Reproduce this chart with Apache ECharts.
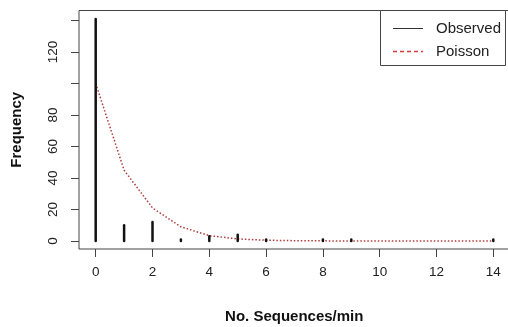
<!DOCTYPE html>
<html>
<head>
<meta charset="utf-8">
<script src="https://cdn.jsdelivr.net/npm/echarts@6/dist/echarts.min.js"></script>
<style>html,body{margin:0;padding:0;background:#fff;}#c{width:508px;height:327px;}</style>
</head>
<body>
<div id="c"></div>
<script>
// Data
var counts = [0, 1, 2, 3, 4, 5, 6, 7, 8, 9, 10, 11, 12, 13, 14];
var observed = [141, 10, 12, 1, 3, 4, 1, 0, 1, 1, 0, 0, 0, 0, 1];
var poisson = [100, 45, 21, 9, 3.4, 1.3, 0.5, 0.2, 0.1, 0, 0, 0, 0, 0, 0];
var xTickValues = [0, 2, 4, 6, 8, 10, 12, 14];
var yTickValues = [0, 20, 40, 60, 80, 100, 120, 140];
var yLabelValues = [0, 20, 40, 60, 80, 120];
var seriesNames = ['Observed', 'Poisson'];

var chart = echarts.init(document.getElementById('c'), null, {renderer: 'canvas'});
var font = 'Liberation Sans, Arial, sans-serif';
var obsData = [];
for (var i = 0; i < counts.length; i++) {
  if (observed[i] > 0) obsData.push([counts[i], observed[i]]);
}
var poiData = counts.map(function (c, i) { return [c, poisson[i]]; });

chart.setOption({
  animation: false,
  backgroundColor: '#fff',
  grid: {
    left: 79, top: 10.5, right: -1.5, bottom: 78,
    show: true, borderColor: '#444', borderWidth: 1,
    containLabel: false, outerBoundsMode: 'none'
  },
  xAxis: {
    type: 'value', min: -0.588, max: 14.57,
    axisLine: {show: false, onZero: false},
    splitLine: {show: false},
    axisTick: {show: true, inside: false, length: 8, lineStyle: {color: '#444'}, customValues: xTickValues},
    axisLabel: {fontFamily: font, fontSize: 13.5, color: '#222', margin: 16, customValues: xTickValues},
    name: 'No. Sequences/min', nameLocation: 'middle', nameGap: 60,
    nameTextStyle: {fontFamily: font, fontSize: 15, fontWeight: 'bold', color: '#111', verticalAlign: 'top'}
  },
  yAxis: {
    type: 'value', min: -5.08, max: 146.4,
    axisLine: {show: false, onZero: false},
    splitLine: {show: false},
    axisTick: {show: true, inside: false, length: 8, lineStyle: {color: '#444'}, customValues: yTickValues},
    axisLabel: {fontFamily: font, fontSize: 13.5, color: '#222', margin: 19, rotate: 90, customValues: yLabelValues},
    name: 'Frequency', nameLocation: 'middle', nameGap: 55, nameRotate: 90,
    nameTextStyle: {fontFamily: font, fontSize: 15, fontWeight: 'bold', color: '#111'}
  },
  series: [
    {
      name: seriesNames[0], type: 'custom', data: obsData, silent: true, z: 3,
      renderItem: function (params, api) {
        var top = api.coord([api.value(0), api.value(1)]);
        var base = api.coord([api.value(0), 0]);
        return {
          type: 'line',
          shape: {x1: top[0], y1: base[1], x2: top[0], y2: top[1]},
          style: {stroke: '#111', lineWidth: 2.5, lineCap: 'round'}
        };
      },
      encode: {x: 0, y: 1}
    },
    {
      name: seriesNames[1], type: 'line', data: poiData, symbol: 'none', z: 2,
      lineStyle: {color: '#B03A3A', width: 1.5, type: [1.5, 2]}, silent: true
    }
  ],
  graphic: [
    {type: 'rect', shape: {x: 380.5, y: 10.5, width: 125, height: 55},
     style: {fill: '#fff', stroke: '#444', lineWidth: 1}, z: 100},
    {type: 'line', shape: {x1: 393, y1: 28.5, x2: 423, y2: 28.5},
     style: {stroke: '#333', lineWidth: 1}, z: 101},
    {type: 'line', shape: {x1: 393, y1: 51.5, x2: 423, y2: 51.5},
     style: {stroke: '#D43C3C', lineWidth: 1.5, lineDash: [4, 3]}, z: 101},
    {type: 'text', x: 436, y: 28.5, z: 101,
     style: {text: seriesNames[0], font: '15px ' + font, fill: '#222', verticalAlign: 'middle'}},
    {type: 'text', x: 436, y: 51.5, z: 101,
     style: {text: seriesNames[1], font: '15px ' + font, fill: '#222', verticalAlign: 'middle'}}
  ]
});
</script>
</body>
</html>
